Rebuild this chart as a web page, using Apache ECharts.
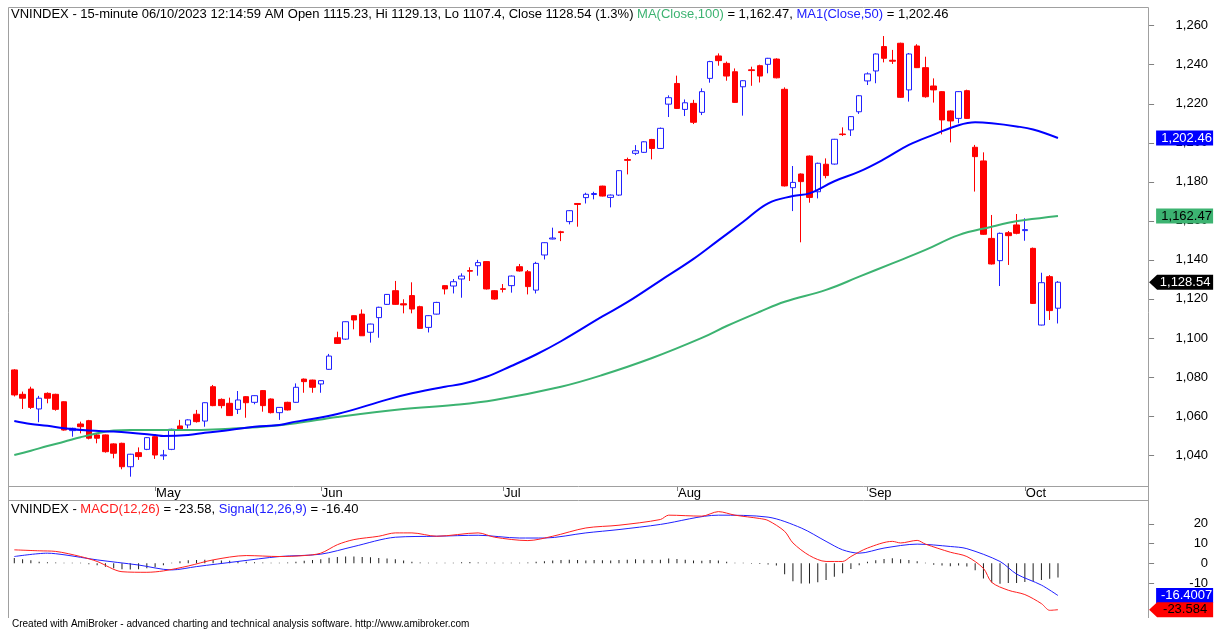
<!DOCTYPE html>
<html>
<head>
<meta charset="utf-8">
<script src="https://cdn.jsdelivr.net/npm/echarts@6/dist/echarts.min.js"></script>
<style>
html, body { margin: 0; padding: 0; background: #fff; }
#chart { width: 1224px; height: 632px; }
</style>
</head>
<body>
<div id="chart"></div>
<script>
// trading days on the chart (Apr 6 .. Oct 6, 2023)
const dates = [
  '2023-04-06','2023-04-07','2023-04-10','2023-04-11','2023-04-12','2023-04-13','2023-04-14','2023-04-17','2023-04-18','2023-04-19',
  '2023-04-20','2023-04-21','2023-04-24','2023-04-25','2023-04-26','2023-04-27','2023-04-28',
  '2023-05-04','2023-05-05','2023-05-08','2023-05-09','2023-05-10','2023-05-11','2023-05-12','2023-05-15','2023-05-16','2023-05-17',
  '2023-05-18','2023-05-19','2023-05-22','2023-05-23','2023-05-24','2023-05-25','2023-05-26','2023-05-29','2023-05-30','2023-05-31',
  '2023-06-01','2023-06-02','2023-06-05','2023-06-06','2023-06-07','2023-06-08','2023-06-09','2023-06-12','2023-06-13','2023-06-14',
  '2023-06-15','2023-06-16','2023-06-19','2023-06-20','2023-06-21','2023-06-22','2023-06-23','2023-06-26','2023-06-27','2023-06-28',
  '2023-06-29','2023-06-30',
  '2023-07-03','2023-07-04','2023-07-05','2023-07-06','2023-07-07','2023-07-10','2023-07-11','2023-07-12','2023-07-13','2023-07-14',
  '2023-07-17','2023-07-18','2023-07-19','2023-07-20','2023-07-21','2023-07-24','2023-07-25','2023-07-26','2023-07-27','2023-07-28',
  '2023-07-31',
  '2023-08-01','2023-08-02','2023-08-03','2023-08-04','2023-08-07','2023-08-08','2023-08-09','2023-08-10','2023-08-11','2023-08-14',
  '2023-08-15','2023-08-16','2023-08-17','2023-08-18','2023-08-21','2023-08-22','2023-08-23','2023-08-24','2023-08-25','2023-08-28',
  '2023-08-29','2023-08-30','2023-08-31',
  '2023-09-05','2023-09-06','2023-09-07','2023-09-08','2023-09-11','2023-09-12','2023-09-13','2023-09-14','2023-09-15','2023-09-18',
  '2023-09-19','2023-09-20','2023-09-21','2023-09-22','2023-09-25','2023-09-26','2023-09-27','2023-09-28','2023-09-29',
  '2023-10-02','2023-10-03','2023-10-04','2023-10-05','2023-10-06'
];

const opens = [
  1083.6,1071.1,1073.8,1063.6,1071.6,1071.1,1067.3,1052.5,1055.9,1057.6,
  1050.3,1050.3,1045.7,1046.0,1034.0,1041.2,1042.9,1049.4,1039.6,1042.9,
  1054.9,1055.4,1060.9,1057.4,1075.0,1068.5,1066.5,1063.4,1069.9,1067.0,
  1073.0,1068.7,1061.7,1067.0,1067.0,1078.9,1078.4,1076.4,1083.9,1100.1,
  1099.4,1111.4,1112.2,1102.9,1110.4,1117.2,1124.2,1117.5,1121.7,1116.0,
  1105.4,1112.2,1126.8,1126.6,1130.2,1134.5,1137.0,1139.1,1124.2,1125.2,
  1126.8,1136.5,1133.9,1124.5,1142.5,1150.7,1154.4,1159.6,1168.9,1171.9,
  1173.5,1177.8,1172.0,1173.2,1191.4,1194.6,1195.1,1201.7,1197.1,1219.8,
  1230.4,1217.1,1220.2,1215.6,1233.0,1244.5,1240.7,1236.4,1228.7,1237.4,
  1239.5,1240.2,1242.9,1227.4,1177.0,1184.0,1193.2,1174.9,1189.0,1189.1,
  1204.5,1206.6,1215.9,1231.7,1236.8,1249.3,1242.3,1251.0,1227.1,1249.6,
  1238.5,1229.1,1226.2,1216.3,1212.5,1226.7,1197.7,1190.7,1151.0,1139.6,
  1153.9,1157.9,1155.0,1145.9,1106.6,1131.4,1115.23
];
const closes = [
  1070.8,1069.1,1064.4,1069.1,1069.1,1063.4,1052.8,1053.7,1054.5,1048.6,
  1048.6,1041.7,1040.9,1034.0,1040.4,1039.2,1048.9,1040.0,1040.0,1053.2,
  1053.3,1058.0,1057.1,1066.8,1065.3,1065.3,1060.2,1068.2,1066.8,1070.4,
  1065.3,1061.7,1064.4,1063.1,1074.7,1077.6,1074.7,1078.1,1090.7,1097.2,
  1108.3,1109.2,1101.1,1107.1,1115.7,1122.3,1117.2,1116.9,1114.8,1104.9,
  1111.4,1118.2,1125.1,1128.8,1131.7,1134.2,1138.6,1125.1,1119.9,1124.9,
  1131.7,1134.3,1126.3,1138.2,1148.8,1151.2,1154.0,1165.2,1168.4,1173.6,
  1174.0,1172.7,1173.2,1185.7,1191.0,1195.9,1200.5,1197.1,1207.4,1223.1,
  1217.6,1220.5,1210.5,1226.2,1241.6,1242.1,1234.2,1220.7,1231.8,1237.0,
  1234.2,1243.3,1233.3,1177.9,1179.7,1180.1,1172.0,1189.5,1183.2,1201.8,
  1204.2,1213.4,1224.1,1235.3,1245.5,1243.3,1241.8,1223.3,1245.5,1238.5,
  1223.6,1227.1,1211.7,1211.2,1226.2,1212.5,1192.9,1153.1,1137.9,1153.6,
  1152.4,1153.6,1155.5,1117.7,1128.3,1114.0,1128.54
];
const lows = [
  1070.0,1063.6,1063.6,1056.8,1066.5,1062.7,1052.5,1049.4,1051.1,1048.0,
  1046.0,1041.2,1038.3,1032.7,1028.9,1037.5,1042.5,1038.0,1037.5,1042.5,
  1053.0,1053.7,1056.6,1054.5,1065.0,1063.9,1060.0,1061.0,1059.1,1066.0,
  1062.2,1061.3,1058.0,1062.8,1066.8,1071.9,1071.9,1071.9,1083.6,1096.9,
  1099.0,1104.4,1101.0,1097.6,1100.1,1116.9,1117.0,1112.6,1112.6,1104.7,
  1102.8,1112.0,1122.3,1122.8,1120.6,1129.2,1131.9,1124.8,1119.5,1123.3,
  1123.2,1134.0,1122.3,1122.8,1140.2,1150.5,1149.6,1158.2,1157.0,1168.9,
  1171.0,1172.5,1166.9,1172.8,1183.8,1193.7,1194.8,1191.5,1196.8,1213.2,
  1217.3,1213.7,1209.6,1214.2,1230.8,1239.5,1231.8,1220.5,1213.9,1229.2,
  1230.9,1235.6,1233.0,1177.6,1165.0,1149.0,1169.3,1171.5,1181.8,1188.8,
  1203.5,1203.5,1214.8,1229.6,1230.5,1241.2,1240.4,1223.0,1221.1,1238.3,
  1223.1,1220.6,1204.3,1200.2,1210.0,1212.2,1175.0,1152.8,1137.6,1126.6,
  1137.4,1153.1,1149.8,1117.4,1106.4,1109.2,1107.4
];
const highs = [
  1084.0,1072.5,1075.0,1070.3,1072.1,1071.4,1067.5,1054.0,1057.1,1058.0,
  1051.1,1050.5,1046.0,1046.3,1040.6,1043.9,1049.2,1049.8,1042.6,1053.5,
  1058.0,1058.3,1063.1,1067.0,1075.9,1069.0,1069.4,1072.8,1070.2,1070.6,
  1073.3,1069.0,1064.6,1067.3,1076.7,1079.2,1078.6,1078.3,1091.8,1103.2,
  1108.5,1111.5,1114.6,1107.3,1116.0,1122.5,1129.2,1119.8,1128.5,1116.5,
  1111.6,1118.5,1127.0,1130.2,1133.1,1136.2,1140.0,1139.3,1124.5,1127.6,
  1132.0,1137.9,1134.8,1139.0,1149.0,1156.5,1154.9,1165.5,1169.1,1174.4,
  1174.9,1178.0,1173.5,1186.0,1192.4,1198.8,1200.8,1202.0,1207.8,1224.3,
  1234.4,1222.2,1222.0,1227.9,1242.0,1245.8,1241.6,1238.1,1232.0,1239.0,
  1240.0,1243.5,1243.3,1228.4,1188.1,1184.3,1193.5,1189.8,1192.0,1202.0,
  1207.9,1213.7,1224.5,1236.1,1245.8,1254.7,1247.6,1251.3,1246.0,1250.5,
  1244.1,1233.0,1226.5,1216.6,1226.5,1227.2,1198.9,1195.1,1163.0,1154.0,
  1154.8,1163.5,1161.3,1146.3,1133.4,1132.2,1129.13
];

// moving averages: [bar index, value]
const ma100Pts = [
  [0,1040.0],[2,1042.2],[4,1044.6],[6,1046.8],[8,1049.1],[10,1051.1],[12,1052.5],[14,1052.8],[18,1052.8],
  [22,1052.8],[26,1053.5],[30,1054.5],[34,1056.3],[39,1059.5],[47,1063.6],[53,1065.6],[58,1068.2],[66,1075.0],
  [71,1081.0],[77,1089.7],[83,1100.0],[86,1106.1],[90,1113.4],[93,1118.5],[98,1124.6],[102,1131.4],[106,1138.2],
  [110,1145.1],[114,1152.7],[118,1157.0],[120,1159.0],[122,1160.4],[126,1162.47]
];
const ma50Pts = [
  [0,1057.4],[2,1055.9],[4,1055.0],[6,1053.7],[9,1052.5],[12,1052.0],[14,1051.4],[17,1050.2],[18,1049.7],
  [21,1050.2],[23,1051.4],[26,1052.8],[29,1054.5],[32,1055.4],[34,1057.1],[39,1061.0],[45,1068.4],[48,1071.6],
  [52,1075.0],[54,1076.4],[57,1080.1],[60,1085.6],[63,1091.5],[66,1098.3],[71,1111.0],[74,1118.3],[78,1129.4],
  [82,1140.5],[85,1150.0],[88,1159.5],[91,1169.0],[94,1172.7],[96,1174.1],[99,1180.3],[102,1185.2],[105,1191.6],
  [108,1198.9],[111,1204.2],[114,1209.0],[116,1210.5],[118,1210.0],[121,1208.4],[123,1206.8],[126,1202.46]
];

// MACD panel
const macdPts = [
  [0,6.8],[3,6.3],[5,6.0],[8,3.4],[10,0.9],[13,-4.3],[16,-4.6],[18,-3.9],[21,-1.4],[24,1.7],[28,3.9],[32,3.4],
  [35,3.9],[37,5.1],[39,9.4],[41,12.0],[44,13.7],[46,15.4],[48,15.4],[51,13.7],[56,15.4],[58,13.2],[62,11.5],
  [65,13.7],[69,17.9],[73,19.3],[78,22.2],[79,24.4],[83,23.9],[85,26.2],[87,24.4],[90,22.7],[91,21.7],[93,16.2],
  [94,10.3],[96,3.9],[98,0.9],[100,0.9],[101,3.4],[103,7.7],[106,11.1],[107,10.3],[109,11.6],[110,9.7],[113,5.6],
  [115,3.4],[117,-2.6],[118,-9.7],[120,-13.7],[122,-15.9],[124,-20.5],[125,-23.9],[126,-23.584]
];
const signalPts = [
  [0,3.4],[4,5.1],[6,4.3],[10,1.7],[15,-0.9],[19,-3.4],[22,-1.7],[27,0.9],[32,3.4],[37,4.6],[41,8.5],[46,13.2],
  [51,13.7],[56,14.2],[61,12.8],[64,12.8],[69,15.4],[73,17.1],[78,19.7],[85,24.4],[91,23.4],[95,17.9],[98,11.1],
  [100,6.8],[102,5.1],[105,7.7],[109,9.7],[113,8.5],[115,7.4],[119,0.9],[121,-5.5],[124,-11.1],[126,-16.4007]
];
const histVals = [
  2.6,2.0,1.5,0.8,0.5,0.4,0.3,0.3,0.2,-0.5,
  -1.0,-1.8,-2.5,-3.0,-3.2,-3.0,-2.5,-2.0,-1.0,0.3,
  1.0,1.5,1.6,1.8,1.6,1.4,1.2,1.0,0.8,0.5,
  0.4,0.3,0.3,0.4,0.8,1.2,1.6,2.0,2.8,3.2,
  3.4,3.4,3.2,3.0,2.6,2.4,2.0,1.4,0.8,0.4,
  0.2,0.2,0.2,0.3,0.5,0.6,0.4,0.2,0.2,0.2,
  0.3,0.3,0.4,0.8,1.0,1.4,1.6,1.8,1.6,1.4,
  1.6,1.5,1.4,1.6,1.8,2.0,1.8,1.6,1.8,2.4,
  2.2,1.8,1.4,1.2,1.6,1.4,0.8,0.2,0.3,-0.3,
  -0.4,-0.6,-1.2,-5.6,-9.1,-10.3,-10.3,-9.7,-8.5,-6.8,
  -5.1,-2.9,-1.0,0.8,1.5,2.2,2.5,2.0,1.6,1.0,
  0.3,-0.8,-1.2,-1.5,-1.2,-1.6,-3.5,-7.7,-9.8,-10.4,
  -10.0,-10.0,-9.5,-9.0,-8.5,-7.9,-7.2
];

const priceTicks = [1040, 1060, 1080, 1100, 1120, 1140, 1160, 1180, 1200, 1220, 1240, 1260];
const macdTicks = [-10, 0, 10, 20];
const monthNames = ['Jan','Feb','Mar','Apr','May','Jun','Jul','Aug','Sep','Oct','Nov','Dec'];

const font = '"Liberation Sans", Arial, sans-serif';
const fs = 13;
const frameColor = '#a0a0a0';

// empty bars on the right, like AmiBroker leaves
const padCount = 11;
const cats = dates.concat(Array.from({ length: padCount }, (_, k) => 'pad' + k));
const lastBar = dates.length - 1;
const edgeIdx = cats.length - 1;

const monthStart = new Set();
for (let i = 1; i < dates.length; i++) {
  if (dates[i].slice(5, 7) !== dates[i - 1].slice(5, 7)) monthStart.add(i);
}
const isMonthStart = (i) => monthStart.has(i);

const candles = dates.map((d, i) => [opens[i], closes[i], lows[i], highs[i]]);

const fmt = (v, d) => v.toLocaleString('en-US', { minimumFractionDigits: d, maximumFractionDigits: d });
const last = (pts) => pts[pts.length - 1][1];

function tag(value, text, bg, fg, arrow) {
  return {
    coord: [edgeIdx, value],
    value: value,
    symbol: arrow ? 'path://M0,7.5L8,0L64,0L64,15L8,15Z' : 'rect',
    symbolSize: arrow ? [64, 15] : [57, 15],
    symbolOffset: arrow ? [32, 0] : [35.5, 0],
    symbolKeepAspect: false,
    itemStyle: { color: bg },
    label: {
      show: true, position: 'inside', formatter: text, color: fg,
      fontSize: fs, fontFamily: font, offset: arrow ? [4, 0] : [2, 0]
    }
  };
}

const pctChange = ((closes[lastBar] / closes[lastBar - 1] - 1) * 100).toFixed(1);

const chart = echarts.init(document.getElementById('chart'), null, { renderer: 'canvas' });

const txt = (color, size) => ({ color: color, fontSize: size || fs, fontWeight: 'normal', fontFamily: font });

const option = {
  animation: false,
  backgroundColor: '#ffffff',
  textStyle: { fontFamily: font },
  title: [{
    left: 11, top: 8, padding: 0,
    text: '{k|VNINDEX - 15-minute 06/10/2023 12:14:59 AM Open ' + opens[lastBar] + ', Hi ' + highs[lastBar] +
      ', Lo ' + lows[lastBar] + ', Close ' + closes[lastBar] + ' (' + pctChange + '%) }' +
      '{g|MA(Close,100)}{k| = ' + fmt(last(ma100Pts), 2) + ', }' +
      '{b|MA1(Close,50)}{k| = ' + fmt(last(ma50Pts), 2) + '}',
    textStyle: {
      fontWeight: 'normal', fontSize: fs,
      rich: { k: txt('#000'), g: txt('#3cb371'), b: txt('#2020ff') }
    }
  }, {
    left: 11, top: 503, padding: 0,
    text: '{k|VNINDEX - }{r|MACD(12,26)}{k| = ' + last(macdPts).toFixed(2) + ', }' +
      '{b|Signal(12,26,9)}{k| = ' + last(signalPts).toFixed(2) + '}',
    textStyle: {
      fontWeight: 'normal', fontSize: fs,
      rich: { k: txt('#000'), r: txt('#ff2020'), b: txt('#2020ff') }
    }
  }, {
    left: 12, top: 619, padding: 0,
    text: 'Created with AmiBroker - advanced charting and technical analysis software. http://www.amibroker.com',
    textStyle: txt('#000', 10)
  }],
  grid: [
    { left: 14.3, top: 7, width: 1134.8, height: 479 },
    { left: 14.3, top: 500, width: 1134.8, height: 118 }
  ],
  xAxis: [{
    type: 'category', gridIndex: 0, data: cats, boundaryGap: false,
    axisLine: { show: false },
    axisTick: { show: true, interval: isMonthStart, length: 5, lineStyle: { color: '#808080' } },
    axisLabel: {
      interval: isMonthStart, align: 'left', margin: 1, padding: [0, 0, 0, 1],
      color: '#000', fontSize: fs, fontFamily: font,
      formatter: (v) => monthNames[parseInt(v.slice(5, 7), 10) - 1]
    },
    splitLine: { show: false }
  }, {
    type: 'category', gridIndex: 1, data: cats, boundaryGap: false, show: false
  }],
  yAxis: [{
    type: 'value', gridIndex: 0, position: 'right', min: 1024.12, max: 1269.58,
    axisLine: { show: false },
    axisTick: { show: true, customValues: priceTicks, length: 5, lineStyle: { color: '#808080' } },
    axisLabel: {
      customValues: priceTicks, align: 'right', margin: 59, color: '#000', fontSize: fs, fontFamily: font,
      formatter: (v) => v.toLocaleString('en-US')
    },
    splitLine: { show: false }
  }, {
    type: 'value', gridIndex: 1, position: 'right', min: -27.8, max: 32.1,
    axisLine: { show: false },
    axisTick: { show: true, customValues: macdTicks, length: 5, lineStyle: { color: '#808080' } },
    axisLabel: {
      customValues: macdTicks, align: 'right', margin: 59, color: '#000', fontSize: fs, fontFamily: font
    },
    splitLine: { show: false }
  }],
  series: [{
    type: 'candlestick', xAxisIndex: 0, yAxisIndex: 0,
    data: candles, barWidth: 6, clip: false,
    itemStyle: { color: '#ffffff', color0: '#ff0000', borderColor: '#2020ff', borderColor0: '#ff0000', borderWidth: 1 },
    markPoint: { silent: true, animation: false, data: [tag(closes[lastBar], fmt(closes[lastBar], 2), '#000000', '#ffffff', true)] },
    z: 2
  }, {
    type: 'line', xAxisIndex: 0, yAxisIndex: 0, data: ma100Pts, smooth: 0.4,
    showSymbol: false, lineStyle: { color: '#3cb371', width: 2 }, itemStyle: { color: '#3cb371' },
    markPoint: { silent: true, animation: false, data: [tag(last(ma100Pts), fmt(last(ma100Pts), 2), '#3cb371', '#000000', false)] },
    z: 3
  }, {
    type: 'line', xAxisIndex: 0, yAxisIndex: 0, data: ma50Pts, smooth: 0.4,
    showSymbol: false, lineStyle: { color: '#0000ff', width: 2 }, itemStyle: { color: '#0000ff' },
    markPoint: { silent: true, animation: false, data: [tag(last(ma50Pts), fmt(last(ma50Pts), 2), '#0000ff', '#ffffff', false)] },
    z: 3
  }, {
    type: 'bar', xAxisIndex: 1, yAxisIndex: 1, data: histVals, barWidth: 1,
    itemStyle: { color: '#202020' }, z: 2
  }, {
    type: 'line', xAxisIndex: 1, yAxisIndex: 1, data: signalPts, smooth: 0.3,
    showSymbol: false, lineStyle: { color: '#2020ff', width: 1 }, itemStyle: { color: '#2020ff' },
    markPoint: { silent: true, animation: false, data: [tag(last(signalPts), String(last(signalPts)), '#0000ff', '#ffffff', false)] },
    z: 3
  }, {
    type: 'line', xAxisIndex: 1, yAxisIndex: 1, data: macdPts, smooth: 0.3,
    showSymbol: false, lineStyle: { color: '#ff2020', width: 1 }, itemStyle: { color: '#ff2020' },
    markPoint: { silent: true, animation: false, data: [tag(last(macdPts), String(last(macdPts)), '#ff0000', '#000000', true)] },
    z: 4
  }],
  graphic: [
    { type: 'polyline', silent: true, z: 10,
      shape: { points: [[8.5, 618], [8.5, 7.5], [1148.5, 7.5], [1148.5, 618]] },
      style: { stroke: frameColor, fill: null, lineWidth: 1 } },
    { type: 'line', silent: true, z: 10, shape: { x1: 8.5, y1: 486.5, x2: 1148.5, y2: 486.5 },
      style: { stroke: frameColor, lineWidth: 1 } },
    { type: 'line', silent: true, z: 10, shape: { x1: 8.5, y1: 500.5, x2: 1148.5, y2: 500.5 },
      style: { stroke: frameColor, lineWidth: 1 } }
  ]
};

chart.setOption(option);
</script>
</body>
</html>
